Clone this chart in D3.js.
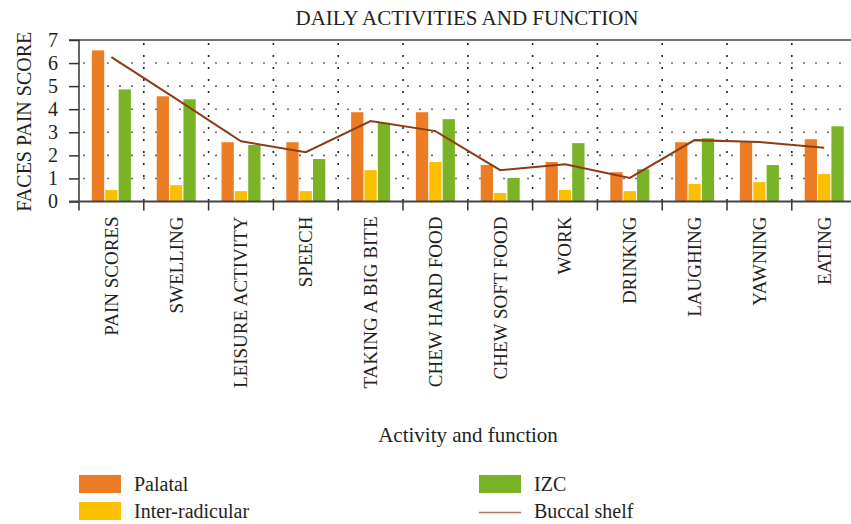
<!DOCTYPE html>
<html>
<head>
<meta charset="utf-8">
<script src="https://cdnjs.cloudflare.com/ajax/libs/d3/7.8.5/d3.min.js"></script>
<style>
  body { margin: 0; background: #fff; }
  svg { display: block; font-family: "Liberation Serif", "DejaVu Serif", serif; }
  text { fill: #231f20; }
</style>
</head>
<body>
<div class="chart"></div>
<script>
// data
var categories = ["PAIN SCORES", "SWELLING", "LEISURE ACTIVITY", "SPEECH", "TAKING A BIG BITE",
  "CHEW HARD FOOD", "CHEW SOFT FOOD", "WORK", "DRINKNG", "LAUGHING", "YAWNING", "EATING"];
var palatal = [6.55, 4.56, 2.57, 2.57, 3.87, 3.87, 1.58, 1.71, 1.27, 2.57, 2.57, 2.70];
var interRadicular = [0.50, 0.71, 0.45, 0.45, 1.36, 1.71, 0.37, 0.50, 0.45, 0.76, 0.84, 1.19];
var izc = [4.86, 4.43, 2.45, 1.84, 3.41, 3.57, 1.02, 2.53, 1.40, 2.74, 1.58, 3.26];
var buccalShelf = [6.26, 4.45, 2.61, 2.14, 3.49, 3.05, 1.36, 1.61, 1.02, 2.66, 2.58, 2.33];
var yTicks = [0, 1, 2, 3, 4, 5, 6, 7];

var barSeries = [
  {name: "Palatal", values: palatal, color: "#ed7d24"},
  {name: "Inter-radicular", values: interRadicular, color: "#fcbf00"},
  {name: "IZC", values: izc, color: "#7ab326"}
];
var lineColor = "#8b3c14";

// dimensions
var width = 851, height = 524;
var plotLeft = 79, plotTop = 40, plotBottom = 201.5;
var plotRight = plotLeft + 12 * 64.8;

var svg = d3.select(".chart")
  .append("svg")
  .attr("width", width)
  .attr("height", height);

// scales
var x0 = d3.scaleBand()
  .domain(categories)
  .range([plotLeft, plotRight])
  .padding(0);
var x1 = d3.scaleBand()
  .domain(barSeries.map(function(s) { return s.name; }))
  .range([0, 39])
  .paddingInner(0.08);
var groupOffset = (x0.bandwidth() - 39) / 2;
var y = d3.scaleLinear()
  .domain([0, 7])
  .range([plotBottom, plotTop]);

// horizontal dotted grid
svg.append("g")
  .selectAll("line")
  .data(yTicks.filter(function(d) { return d > 0 && d < 7; }))
  .enter()
  .append("line")
  .attr("x1", plotLeft + 4)
  .attr("x2", width)
  .attr("y1", function(d) { return y(d); })
  .attr("y2", function(d) { return y(d); })
  .attr("stroke", "#6d6d6d")
  .attr("stroke-width", 1.6)
  .attr("stroke-dasharray", "2,10");

// vertical dotted grid at category boundaries
svg.append("g")
  .selectAll("line")
  .data(categories.slice(1))
  .enter()
  .append("line")
  .attr("x1", function(d) { return x0(d); })
  .attr("x2", function(d) { return x0(d); })
  .attr("y1", plotTop + 3)
  .attr("y2", plotBottom)
  .attr("stroke", "#222")
  .attr("stroke-width", 1.6)
  .attr("stroke-dasharray", "2,10");

// bars
var groups = svg.append("g")
  .selectAll("g")
  .data(categories)
  .enter()
  .append("g")
  .attr("transform", function(d) { return "translate(" + (x0(d) + groupOffset) + ",0)"; });

groups.selectAll("rect")
  .data(function(d, i) {
    return barSeries.map(function(s) { return {name: s.name, color: s.color, value: s.values[i]}; });
  })
  .enter()
  .append("rect")
  .attr("x", function(d) { return x1(d.name); })
  .attr("width", x1.bandwidth())
  .attr("y", function(d) { return y(d.value); })
  .attr("height", function(d) { return plotBottom - y(d.value); })
  .attr("fill", function(d) { return d.color; });

// buccal shelf line
var line = d3.line()
  .x(function(d, i) { return x0(categories[i]) + x0.bandwidth() / 2; })
  .y(function(d) { return y(d); });
svg.append("path")
  .datum(buccalShelf)
  .attr("d", line)
  .attr("fill", "none")
  .attr("stroke", lineColor)
  .attr("stroke-width", 2);

// frame lines
svg.append("line")
  .attr("x1", plotLeft - 10).attr("x2", width)
  .attr("y1", plotTop).attr("y2", plotTop)
  .attr("stroke", "#444").attr("stroke-width", 1.5);

// y axis
var yAxis = svg.append("g")
  .attr("transform", "translate(" + plotLeft + ",0)")
  .call(d3.axisLeft(y).tickValues(yTicks).tickSize(10).tickPadding(11).tickFormat(d3.format("d")));
yAxis.select(".domain").remove();
yAxis.selectAll(".tick line").attr("stroke", "#333").attr("stroke-width", 1.5);
yAxis.selectAll("text").attr("font-size", "20px").attr("font-family", "Liberation Serif").attr("fill", "#231f20");
svg.append("line")
  .attr("x1", plotLeft).attr("x2", plotLeft)
  .attr("y1", plotTop).attr("y2", plotBottom + 9)
  .attr("stroke", "#333").attr("stroke-width", 1.5);

// x axis baseline and ticks
svg.append("line")
  .attr("x1", plotLeft - 10).attr("x2", width)
  .attr("y1", plotBottom).attr("y2", plotBottom)
  .attr("stroke", "#444").attr("stroke-width", 2);
svg.append("g")
  .selectAll("line")
  .data(categories)
  .enter()
  .append("line")
  .attr("x1", function(d) { return x0(d) + x0.bandwidth(); })
  .attr("x2", function(d) { return x0(d) + x0.bandwidth(); })
  .attr("y1", plotBottom)
  .attr("y2", plotBottom + 9)
  .attr("stroke", "#333")
  .attr("stroke-width", 1.5);

// category labels
svg.append("g")
  .selectAll("text")
  .data(categories)
  .enter()
  .append("text")
  .attr("transform", function(d) {
    return "translate(" + (x0(d) + x0.bandwidth() / 2) + "," + (plotBottom + 15) + ") rotate(-90)";
  })
  .attr("text-anchor", "end")
  .attr("dy", "0.34em")
  .attr("font-size", "19px")
  .text(function(d) { return d; });

// title
svg.append("text")
  .attr("x", 467)
  .attr("y", 25)
  .attr("text-anchor", "middle")
  .attr("font-size", "21px")
  .text("DAILY ACTIVITIES AND FUNCTION");

// y label
svg.append("text")
  .attr("transform", "translate(31," + ((plotTop + plotBottom) / 2 + 1) + ") rotate(-90)")
  .attr("text-anchor", "middle")
  .attr("font-size", "20px")
  .text("FACES PAIN SCORE");

// x label
svg.append("text")
  .attr("x", 468)
  .attr("y", 442)
  .attr("text-anchor", "middle")
  .attr("font-size", "21px")
  .text("Activity and function");

// legend
var legendItems = [
  {name: "Palatal", color: barSeries[0].color, type: "rect", x: 79, y: 475},
  {name: "Inter-radicular", color: barSeries[1].color, type: "rect", x: 79, y: 502},
  {name: "IZC", color: barSeries[2].color, type: "rect", x: 479, y: 475},
  {name: "Buccal shelf", color: lineColor, type: "line", x: 479, y: 502}
];
var legend = svg.append("g")
  .selectAll("g")
  .data(legendItems)
  .enter()
  .append("g")
  .attr("transform", function(d) { return "translate(" + d.x + "," + d.y + ")"; });
legend.filter(function(d) { return d.type === "rect"; })
  .append("rect")
  .attr("width", 42)
  .attr("height", 18)
  .attr("fill", function(d) { return d.color; });
legend.filter(function(d) { return d.type === "line"; })
  .append("line")
  .attr("x1", 0).attr("x2", 42)
  .attr("y1", 10.5).attr("y2", 10.5)
  .attr("stroke", function(d) { return d.color; })
  .attr("stroke-opacity", 0.7)
  .attr("stroke-width", 1.5);
legend.append("text")
  .attr("x", 55)
  .attr("y", 16)
  .attr("font-size", "20px")
  .text(function(d) { return d.name; });
</script>
</body>
</html>
